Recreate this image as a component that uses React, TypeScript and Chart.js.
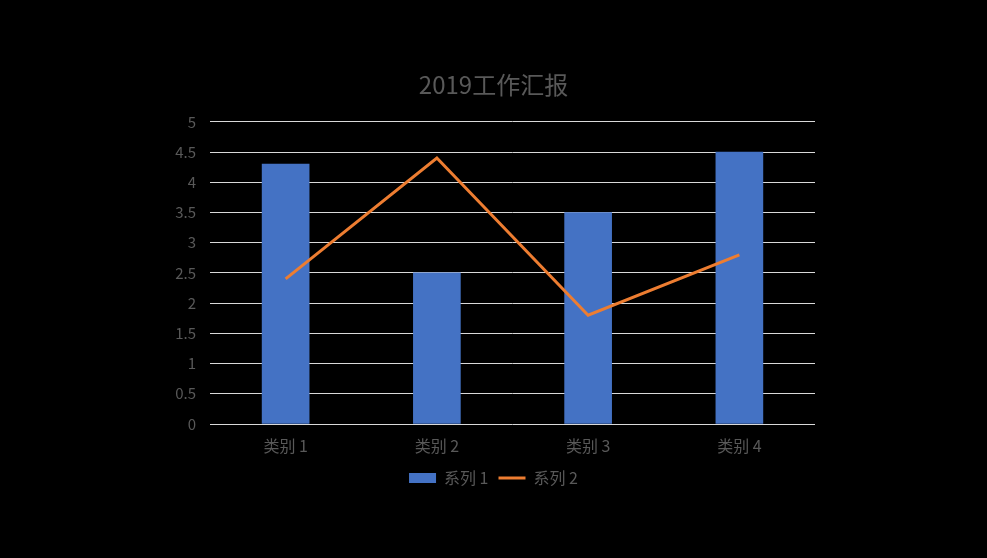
import React, { useEffect, useRef } from "react";
import { Chart, registerables } from "chart.js";

Chart.register(...registerables);

const categories = ["类别 1", "类别 2", "类别 3", "类别 4"];
const series1 = [4.3, 2.5, 3.5, 4.5];
const series2 = [2.4, 4.4, 1.8, 2.8];
const seriesNames = ["系列 1", "系列 2"];
const titleText = "2019工作汇报";

const BLUE = "#4472C4";
const ORANGE = "#ED7D31";
const TEXT = "#595959";
const GRID = "#D9D9D9";
const FONT = "'Noto Sans CJK SC', 'Noto Sans', sans-serif";

export default function App() {
  const ref = useRef<HTMLCanvasElement | null>(null);

  useEffect(() => {
    if (!ref.current) return;
    const chart = new Chart(ref.current, {
      type: "bar",
      data: {
        labels: categories,
        datasets: [
          {
            type: "bar",
            label: seriesNames[0],
            data: series1,
            backgroundColor: BLUE,
            borderWidth: 0,
            barThickness: 47,
            order: 1,
          },
          {
            type: "line",
            label: seriesNames[1],
            data: series2,
            borderColor: ORANGE,
            backgroundColor: ORANGE,
            borderWidth: 3,
            pointRadius: 0,
            tension: 0,
            order: 0,
          } as any,
        ],
      },
      options: {
        responsive: false,
        animation: false,
        layout: { padding: { left: 172, right: 172, top: 0, bottom: 62 } },
        plugins: {
          title: {
            display: true,
            text: titleText,
            color: TEXT,
            font: { family: FONT, size: 24, weight: "normal" },
            padding: { top: 70, bottom: 23 },
          },
          legend: {
            position: "bottom",
            labels: {
              usePointStyle: true,
              pointStyleWidth: 27,
              boxHeight: 10,
              padding: 10,
              color: TEXT,
              font: { family: FONT, size: 16 },
              generateLabels: () => [
                {
                  text: seriesNames[0],
                  fillStyle: BLUE,
                  strokeStyle: BLUE,
                  lineWidth: 0,
                  pointStyle: "rect",
                  datasetIndex: 0,
                  hidden: false,
                  fontColor: TEXT,
                },
                {
                  text: seriesNames[1],
                  fillStyle: ORANGE,
                  strokeStyle: ORANGE,
                  lineWidth: 3,
                  pointStyle: "line",
                  datasetIndex: 1,
                  hidden: false,
                  fontColor: TEXT,
                },
              ] as any,
            },
          },
          tooltip: { enabled: false },
        },
        scales: {
          x: {
            grid: { display: false },
            border: { display: false },
            ticks: {
              color: TEXT,
              font: { family: FONT, size: 16 },
              padding: 4,
            },
            afterFit: (s: any) => {
              s.height = 36;
            },
          },
          y: {
            min: 0,
            max: 5,
            grid: { color: GRID, lineWidth: 1, drawTicks: false },
            border: { display: false },
            ticks: {
              stepSize: 0.5,
              color: TEXT,
              font: { family: FONT, size: 15 },
              padding: 14,
              callback: (v: any) => String(Number(v)),
            },
            afterFit: (s: any) => {
              s.width = 38;
            },
          },
        },
      },
    });
    return () => chart.destroy();
  }, []);

  return (
    <div
      style={{
        position: "fixed",
        left: 0,
        top: 0,
        width: 987,
        height: 558,
        background: "#000",
      }}
    >
      <canvas ref={ref} width={987} height={558} style={{ display: "block" }} />
    </div>
  );
}
